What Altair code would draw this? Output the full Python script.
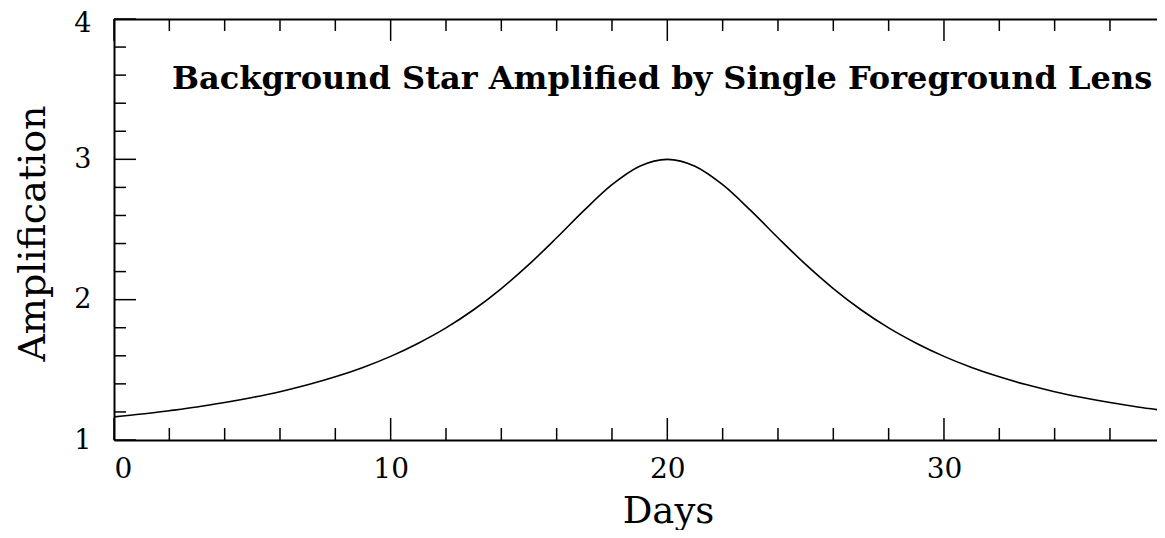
import altair as alt
import pandas as pd

# ---- data ----
days = list(range(0, 39))
amplification = [1.165, 1.185, 1.209, 1.235, 1.267, 1.303, 1.344, 1.393, 1.450, 1.517,
                 1.596, 1.690, 1.799, 1.928, 2.079, 2.251, 2.441, 2.638, 2.819, 2.951,
                 3.000, 2.951, 2.819, 2.638, 2.441, 2.251, 2.079, 1.928, 1.799, 1.690,
                 1.596, 1.517, 1.450, 1.393, 1.344, 1.303, 1.267, 1.235, 1.209]

x_major_ticks = [0, 10, 20, 30]
x_minor_ticks = [2, 4, 6, 8, 12, 14, 16, 18, 22, 24, 26, 28, 32, 34, 36]
y_major_ticks = [1, 2, 3, 4]
y_minor_ticks = [1.2, 1.4, 1.6, 1.8, 2.2, 2.4, 2.6, 2.8, 3.2, 3.4, 3.6, 3.8]

title_text = ["Background Star Amplified by Single Foreground Lens"]
x_title = "Days"
y_title = "Amplification"

# ---- layout ----
W, H = 1043, 421
X_MAX = 37.7
MAJOR, MINOR = 22, 12
INK = "#000000"
SERIF = "DejaVu Serif"

df = pd.DataFrame({"day": days, "amp": amplification})
xs = alt.Scale(domain=[0, X_MAX], nice=False, zero=False)
ys = alt.Scale(domain=[1, 4], nice=False, zero=False)

x_axis = alt.Axis(
    values=x_major_ticks, ticks=False, tickSize=0, grid=False,
    domainColor=INK, domainWidth=2, labelPadding=15,
    labelFont=SERIF, labelFontSize=28, labelColor=INK,
    title=x_title, titleFont=SERIF, titleFontSize=37, titleFontWeight="normal",
    titleColor=INK, titleX=554, titleY=82, titleBaseline="alphabetic",
    titleAlign="center")

y_axis = alt.Axis(
    values=y_major_ticks, ticks=False, tickSize=0, grid=False,
    domainColor=INK, domainWidth=2, labelPadding=23,
    labelFont=SERIF, labelFontSize=27, labelColor=INK,
    labelOffset={"condition": {"test": "datum.value == 4", "value": 4}, "value": 0},
    title=y_title, titleFont=SERIF, titleFontSize=38, titleFontWeight="normal",
    titleColor=INK, titleX=-70, titleY=214, titleAngle=270,
    titleBaseline="alphabetic", titleAlign="center")

top_axis = alt.Axis(orient="top", labels=False, ticks=False, tickSize=0,
                    grid=False, title=None, domainColor=INK, domainWidth=2)

line = alt.Chart(df).mark_line(
    color=INK, strokeWidth=1.6, interpolate="monotone", clip=True
).encode(
    x=alt.X("day:Q", scale=xs, axis=x_axis),
    y=alt.Y("amp:Q", scale=ys, axis=y_axis),
)

def xticks(vals, y0, y1, axis=None):
    return alt.Chart(pd.DataFrame({"v": vals})).mark_rule(
        color=INK, strokeWidth=1.5
    ).encode(
        x=alt.X("v:Q", scale=xs, axis=axis),
        y=alt.value(y0), y2=alt.value(y1),
    )

def yticks(vals, length):
    return alt.Chart(pd.DataFrame({"v": vals})).mark_rule(
        color=INK, strokeWidth=1.5
    ).encode(
        y=alt.Y("v:Q", scale=ys, axis=y_axis),
        x=alt.value(0), x2=alt.value(length),
    )

note = alt.Chart(pd.DataFrame({"label": title_text})).mark_text(
    align="left", baseline="alphabetic", font=SERIF, fontSize=32,
    fontWeight="bold", color=INK
).encode(
    text="label:N", x=alt.value(58), y=alt.value(70),
)

chart = alt.layer(
    line,
    xticks(x_major_ticks, H, H - MAJOR),
    xticks(x_minor_ticks, H, H - MINOR),
    xticks(x_major_ticks, 0, MAJOR, axis=top_axis),
    xticks(x_minor_ticks, 0, MINOR),
    yticks(y_major_ticks, MAJOR),
    yticks(y_minor_ticks, MINOR),
    note,
).resolve_axis(
    x="independent"
).properties(
    width=W, height=H,
    autosize=alt.AutoSizeParams(type="none"),
    padding={"left": 106, "top": 11, "right": 0, "bottom": 90},
    background="white",
).configure_view(stroke=None)

chart.save("out.html", embed_options={"renderer": "svg", "actions": False})
